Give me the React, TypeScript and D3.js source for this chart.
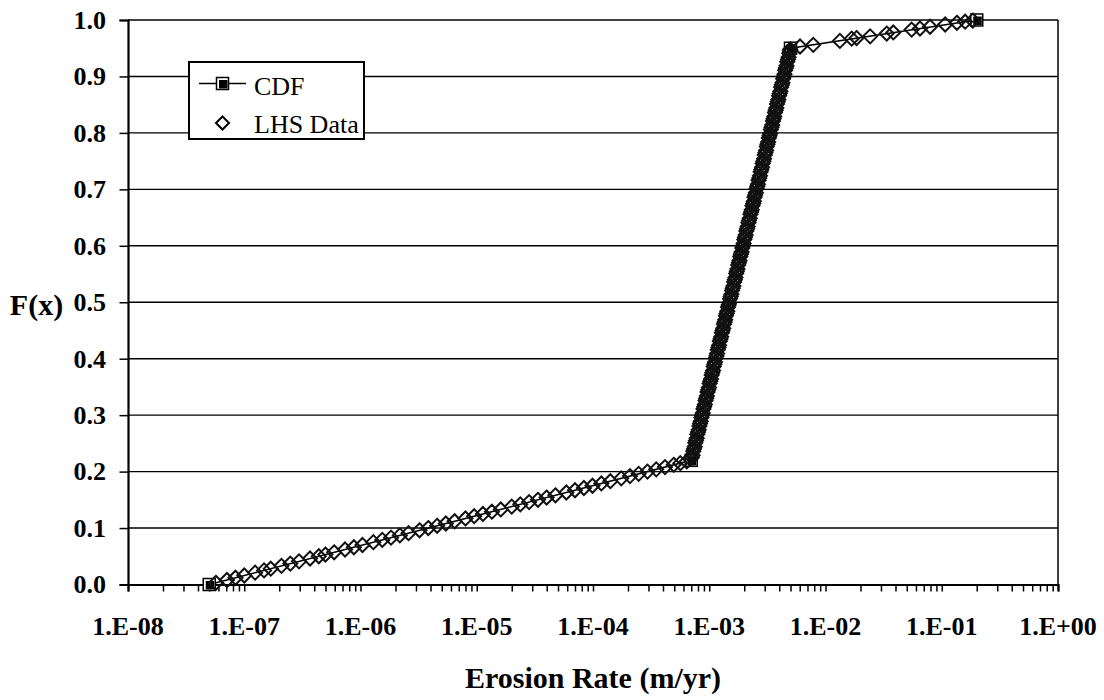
import React, {useEffect, useRef} from "react";
import * as d3 from "d3";

// CDF breakpoints (erosion rate in m/yr, cumulative probability)
const cdfRate = [5e-8, 7e-4, 5e-3, 2e-1];
const cdfProb = [0, 0.22, 0.95, 1.0];

// LHS samples: [rate, F(x)]
const lhsLow: [number, number][] = [
  [5.7e-8, 0.003], [7.1e-8, 0.008], [8.4e-8, 0.012], [1.0e-7, 0.016], [1.24e-7, 0.021],
  [1.48e-7, 0.025], [1.69e-7, 0.028], [2.09e-7, 0.033], [2.49e-7, 0.037], [2.96e-7, 0.041],
  [3.68e-7, 0.046], [4.38e-7, 0.05], [4.99e-7, 0.053], [5.93e-7, 0.057], [7.36e-7, 0.062],
  [8.77e-7, 0.066], [1.04e-6, 0.07], [1.29e-6, 0.075], [1.54e-6, 0.079], [1.83e-6, 0.083],
  [2.18e-6, 0.087], [2.59e-6, 0.091], [3.22e-6, 0.096], [3.83e-6, 0.1], [4.56e-6, 0.104],
  [5.42e-6, 0.108], [6.45e-6, 0.112], [8.0e-6, 0.117], [9.5e-6, 0.121], [1.13e-5, 0.125],
  [1.35e-5, 0.129], [1.61e-5, 0.133], [2.0e-5, 0.138], [2.37e-5, 0.142], [2.82e-5, 0.146],
  [3.36e-5, 0.15], [3.99e-5, 0.154], [4.75e-5, 0.158], [5.9e-5, 0.163], [7.0e-5, 0.167],
  [8.35e-5, 0.171], [9.9e-5, 0.175], [1.18e-4, 0.179], [1.41e-4, 0.183], [1.75e-4, 0.188],
  [2.08e-4, 0.192], [2.47e-4, 0.196], [2.94e-4, 0.2], [3.5e-4, 0.204], [4.16e-4, 0.208],
  [4.95e-4, 0.212], [5.64e-4, 0.215], [6.41e-4, 0.218],
];

const lhsSteep: [number, number][] = [
  [7.09e-4, 0.225], [7.19e-4, 0.229], [7.29e-4, 0.236], [7.39e-4, 0.24], [7.49e-4, 0.244],
  [7.59e-4, 0.251], [7.69e-4, 0.255], [7.80e-4, 0.259], [7.90e-4, 0.266], [8.01e-4, 0.27],
  [8.12e-4, 0.274], [8.23e-4, 0.281], [8.34e-4, 0.285], [8.45e-4, 0.289], [8.57e-4, 0.296],
  [8.68e-4, 0.3], [8.80e-4, 0.304], [8.92e-4, 0.311], [9.04e-4, 0.315], [9.17e-4, 0.319],
  [9.29e-4, 0.326], [9.42e-4, 0.33], [9.54e-4, 0.334], [9.67e-4, 0.341], [9.80e-4, 0.345],
  [9.94e-4, 0.349], [1.007e-3, 0.356], [1.021e-3, 0.36], [1.035e-3, 0.364], [1.049e-3, 0.371],
  [1.063e-3, 0.375], [1.078e-3, 0.379], [1.092e-3, 0.386], [1.107e-3, 0.39], [1.122e-3, 0.394],
  [1.137e-3, 0.401], [1.153e-3, 0.405], [1.168e-3, 0.409], [1.184e-3, 0.416], [1.2e-3, 0.42],
  [1.216e-3, 0.424], [1.233e-3, 0.431], [1.25e-3, 0.435], [1.267e-3, 0.439], [1.284e-3, 0.446],
  [1.301e-3, 0.45], [1.319e-3, 0.454], [1.337e-3, 0.461], [1.355e-3, 0.465], [1.373e-3, 0.469],
  [1.392e-3, 0.476], [1.411e-3, 0.48], [1.43e-3, 0.484], [1.449e-3, 0.491], [1.469e-3, 0.495],
  [1.489e-3, 0.499], [1.509e-3, 0.506], [1.53e-3, 0.51], [1.55e-3, 0.514], [1.571e-3, 0.521],
  [1.593e-3, 0.525], [1.614e-3, 0.529], [1.636e-3, 0.536], [1.659e-3, 0.54], [1.681e-3, 0.544],
  [1.704e-3, 0.551], [1.727e-3, 0.555], [1.75e-3, 0.559], [1.774e-3, 0.566], [1.798e-3, 0.57],
  [1.822e-3, 0.574], [1.847e-3, 0.581], [1.872e-3, 0.585], [1.898e-3, 0.589], [1.924e-3, 0.596],
  [1.95e-3, 0.6], [1.976e-3, 0.604], [2.003e-3, 0.611], [2.03e-3, 0.615], [2.058e-3, 0.619],
  [2.086e-3, 0.626], [2.114e-3, 0.63], [2.143e-3, 0.634], [2.172e-3, 0.641], [2.201e-3, 0.645],
  [2.231e-3, 0.649], [2.261e-3, 0.656], [2.292e-3, 0.66], [2.323e-3, 0.664], [2.355e-3, 0.671],
  [2.387e-3, 0.675], [2.419e-3, 0.679], [2.452e-3, 0.686], [2.485e-3, 0.69], [2.519e-3, 0.694],
  [2.553e-3, 0.701], [2.588e-3, 0.705], [2.623e-3, 0.709], [2.658e-3, 0.716], [2.695e-3, 0.72],
  [2.731e-3, 0.724], [2.768e-3, 0.731], [2.806e-3, 0.735], [2.844e-3, 0.739], [2.883e-3, 0.746],
  [2.922e-3, 0.75], [2.961e-3, 0.754], [3.002e-3, 0.761], [3.042e-3, 0.765], [3.084e-3, 0.769],
  [3.126e-3, 0.776], [3.168e-3, 0.78], [3.211e-3, 0.784], [3.255e-3, 0.791], [3.299e-3, 0.795],
  [3.344e-3, 0.799], [3.389e-3, 0.806], [3.435e-3, 0.81], [3.482e-3, 0.814], [3.529e-3, 0.821],
  [3.577e-3, 0.825], [3.625e-3, 0.829], [3.674e-3, 0.836], [3.725e-3, 0.84], [3.775e-3, 0.844],
  [3.826e-3, 0.851], [3.878e-3, 0.855], [3.931e-3, 0.859], [3.984e-3, 0.866], [4.038e-3, 0.87],
  [4.093e-3, 0.874], [4.149e-3, 0.881], [4.205e-3, 0.885], [4.262e-3, 0.889], [4.32e-3, 0.896],
  [4.379e-3, 0.9], [4.438e-3, 0.904], [4.498e-3, 0.911], [4.559e-3, 0.915], [4.622e-3, 0.919],
  [4.684e-3, 0.926], [4.748e-3, 0.93], [4.812e-3, 0.934], [4.878e-3, 0.941], [4.944e-3, 0.945],
];

const lhsHigh: [number, number][] = [
  [4.97e-3, 0.948], [6.04e-3, 0.953], [7.85e-3, 0.956], [1.33e-2, 0.963], [1.68e-2, 0.967],
  [1.85e-2, 0.968], [2.42e-2, 0.971], [3.36e-2, 0.976], [3.83e-2, 0.978], [5.51e-2, 0.983],
  [6.5e-2, 0.985], [7.93e-2, 0.988], [1.07e-1, 0.992], [1.35e-1, 0.995], [1.59e-1, 0.997],
  [1.85e-1, 0.999],
];

const yTicks = [0, 0.1, 0.2, 0.3, 0.4, 0.5, 0.6, 0.7, 0.8, 0.9, 1.0];
const xMajor = [1e-8, 1e-7, 1e-6, 1e-5, 1e-4, 1e-3, 1e-2, 1e-1, 1];

const W = 1104;
const H = 700;
const LEFT = 128;
const RIGHT = 1058;
const TOP = 20;
const BOTTOM = 584.5;
const FONT = "'Liberation Serif', 'Times New Roman', serif";
const DIAMOND_R = 7;
const DIAMOND_W = 2;

function sciLabel(v: number) {
  const e = Math.round(Math.log10(v));
  const s = Math.abs(e).toString().padStart(2, "0");
  return "1.E" + (e < 0 ? "-" : "+") + s;
}

function diamond(r: number) {
  return `M0,${-r}L${r},0L0,${r}L${-r},0Z`;
}

function squareMarker(g: any, cx: number, cy: number) {
  const s = 12;
  g.append("rect")
    .attr("x", cx - s / 2).attr("y", cy - s / 2)
    .attr("width", s).attr("height", s)
    .attr("fill", "#fff").attr("stroke", "#000").attr("stroke-width", 1.5);
  g.append("rect")
    .attr("x", cx - s / 2 + 2.5).attr("y", cy - s / 2 + 2.5)
    .attr("width", s - 3.5).attr("height", s - 3.5)
    .attr("fill", "#000");
}

export default function App() {
  const ref = useRef<SVGSVGElement>(null);

  useEffect(() => {
    document.body.style.margin = "0";
    const svg = d3.select(ref.current);
    svg.selectAll("*").remove();

    const x = d3.scaleLog().domain([1e-8, 1]).range([LEFT, RIGHT]);
    const y = d3.scaleLinear().domain([0, 1]).range([BOTTOM, TOP]);

    // horizontal gridlines
    svg.append("g")
      .selectAll("line")
      .data(yTicks.filter((v) => v > 0))
      .join("line")
      .attr("x1", LEFT).attr("x2", RIGHT)
      .attr("y1", (d) => y(d)).attr("y2", (d) => y(d))
      .attr("stroke", "#000").attr("stroke-width", 1.4);

    // right border of plot area
    svg.append("line")
      .attr("x1", RIGHT).attr("x2", RIGHT).attr("y1", TOP).attr("y2", BOTTOM)
      .attr("stroke", "#000").attr("stroke-width", 1.5);

    // x axis ticks (all log subdivisions)
    const xAxis = svg.append("g")
      .attr("transform", `translate(0,${BOTTOM})`)
      .call(d3.axisBottom(x).ticks(10).tickSize(7).tickFormat(() => "") as any);
    xAxis.select(".domain").attr("stroke-width", 2.2);
    xAxis.selectAll(".tick line").attr("stroke-width", 1.5);

    svg.append("g")
      .selectAll("text")
      .data(xMajor)
      .join("text")
      .attr("x", (d) => x(d))
      .attr("y", 635)
      .attr("text-anchor", "middle")
      .attr("font-family", FONT)
      .attr("font-weight", "bold")
      .attr("font-size", 26)
      .text((d) => sciLabel(d));

    // y axis
    const yAxis = svg.append("g")
      .attr("transform", `translate(${LEFT},0)`)
      .call(d3.axisLeft(y).tickValues(yTicks).tickSize(8.5).tickPadding(13.5).tickFormat(d3.format(".1f")) as any);
    yAxis.select(".domain").attr("stroke-width", 2.2);
    yAxis.selectAll(".tick line").attr("stroke-width", 1.5);
    yAxis.selectAll("text")
      .attr("font-family", FONT)
      .attr("font-weight", "bold")
      .attr("font-size", 26)
      .attr("fill", "#000");

    // axis titles
    svg.append("text")
      .attr("x", 36.5).attr("y", 315)
      .attr("text-anchor", "middle")
      .attr("font-family", FONT).attr("font-weight", "bold").attr("font-size", 30)
      .text("F(x)");
    svg.append("text")
      .attr("x", (LEFT + RIGHT) / 2).attr("y", 688)
      .attr("text-anchor", "middle")
      .attr("font-family", FONT).attr("font-weight", "bold").attr("font-size", 30)
      .text("Erosion Rate (m/yr)");

    // CDF line + square markers
    const cdf = cdfRate.map((r, i) => [r, cdfProb[i]] as [number, number]);
    const line = d3.line<[number, number]>().x((d) => x(d[0])).y((d) => y(d[1]));
    svg.append("path")
      .attr("d", line(cdf))
      .attr("fill", "none").attr("stroke", "#000").attr("stroke-width", 1.6);
    const sq = svg.append("g");
    cdf.forEach((d) => squareMarker(sq, x(d[0]), y(d[1])));

    // LHS diamonds
    const lhs = [...lhsLow, ...lhsSteep, ...lhsHigh];
    svg.append("g")
      .selectAll("path")
      .data(lhs)
      .join("path")
      .attr("transform", (d) => `translate(${x(d[0])},${y(d[1])})`)
      .attr("d", diamond(DIAMOND_R))
      .attr("fill", "none")
      .attr("stroke", "#111")
      .attr("stroke-width", DIAMOND_W);

    // legend
    const lg = svg.append("g");
    lg.append("rect")
      .attr("x", 189).attr("y", 62).attr("width", 175).attr("height", 77)
      .attr("fill", "#fff").attr("stroke", "#000").attr("stroke-width", 2);
    lg.append("line")
      .attr("x1", 199).attr("x2", 246).attr("y1", 83.5).attr("y2", 83.5)
      .attr("stroke", "#000").attr("stroke-width", 1.6);
    squareMarker(lg, 222.5, 83.5);
    lg.append("path")
      .attr("transform", "translate(222.5,123)")
      .attr("d", diamond(6.5))
      .attr("fill", "none").attr("stroke", "#000").attr("stroke-width", DIAMOND_W);
    lg.append("text")
      .attr("x", 254).attr("y", 95)
      .attr("font-family", FONT).attr("font-size", 26)
      .text("CDF");
    lg.append("text")
      .attr("x", 254).attr("y", 133)
      .attr("font-family", FONT).attr("font-size", 26)
      .text("LHS Data");
  }, []);

  return <svg ref={ref} width={W} height={H} style={{display: "block", background: "#fff"}} />;
}
